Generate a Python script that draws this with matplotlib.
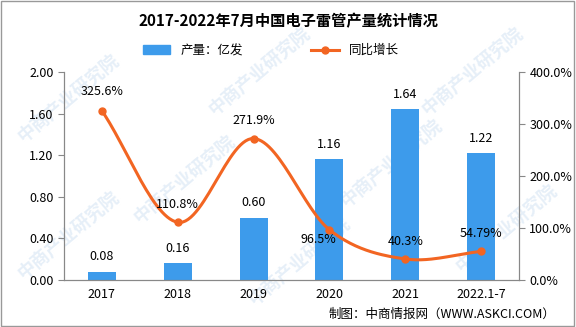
import numpy as np
import matplotlib.pyplot as plt
from matplotlib.lines import Line2D
from matplotlib.patches import Patch

plt.rcParams['font.family'] = ['Noto Sans CJK SC', 'DejaVu Sans']

years = ['2017', '2018', '2019', '2020', '2021', '2022.1-7']
output = [0.08, 0.16, 0.60, 1.16, 1.64, 1.22]
growth = [325.6, 110.8, 271.9, 96.5, 40.3, 54.79]
growth_labels = ['325.6%', '110.8%', '271.9%', '96.5%', '40.3%', '54.79%']

bar_color = '#3D9BEB'
line_color = '#F26522'


# Catmull-Rom style smoothing, like a spreadsheet "smoothed line"
def smooth(xs, ys, n=30):
    xs = np.asarray(xs, float)
    ys = np.asarray(ys, float)
    px = np.concatenate([[2 * xs[0] - xs[1]], xs, [2 * xs[-1] - xs[-2]]])
    py = np.concatenate([[2 * ys[0] - ys[1]], ys, [2 * ys[-1] - ys[-2]]])
    out_x, out_y = [], []
    for i in range(1, len(px) - 2):
        p0, p1, p2, p3 = [np.array([px[j], py[j]]) for j in range(i - 1, i + 3)]
        c1 = p1 + (p2 - p0) / 6
        c2 = p2 - (p3 - p1) / 6
        t = np.linspace(0, 1, n)[:, None]
        pts = (1 - t) ** 3 * p1 + 3 * (1 - t) ** 2 * t * c1 + 3 * (1 - t) * t ** 2 * c2 + t ** 3 * p2
        out_x.extend(pts[:, 0])
        out_y.extend(pts[:, 1])
    return np.array(out_x), np.array(out_y)


fig = plt.figure(figsize=(5.76, 3.27), dpi=100)

# faint diagonal watermark behind everything
for wx, wy in [(0.12, 0.7), (0.45, 0.78), (0.82, 0.78), (0.32, 0.45), (0.68, 0.5), (0.12, 0.28), (0.52, 0.2), (0.88, 0.3)]:
    fig.text(wx, wy, '中商产业研究院', rotation=40, fontsize=13, color='#e6eff8',
             ha='center', va='center', fontweight='bold', zorder=0)

ax = fig.add_axes([0.111, 0.144, 0.79, 0.636])
ax.patch.set_alpha(0)
x = np.arange(len(years))

ax.bar(x, output, width=0.37, color=bar_color, zorder=2)
ax.set_ylim(0, 2.0)
ax.set_yticks(np.arange(0, 2.01, 0.4))
ax.set_yticklabels([f'{v:.2f}' for v in np.arange(0, 2.01, 0.4)])
ax.set_xlim(-0.5, len(years) - 0.5)
ax.set_xticks(x)
ax.set_xticklabels(years)
for xi, v in zip(x, output):
    ax.annotate(f'{v:.2f}', (xi, v), xytext=(0, 6), textcoords='offset points',
                ha='center', va='bottom', fontsize=9, zorder=5)

ax2 = ax.twinx()
ax2.patch.set_alpha(0)
ax.set_zorder(2)
ax2.set_zorder(3)
sx, sy = smooth(x, growth)
ax2.plot(sx, sy, color=line_color, lw=2.2, zorder=3)
ax2.plot(x, growth, 'o', color=line_color, ms=5, zorder=4)
ax2.set_ylim(0, 400)
ax2.set_yticks(np.arange(0, 401, 100))
ax2.set_yticklabels([f'{v:.1f}%' for v in np.arange(0, 401, 100)])
offsets = [(0, 9), (0, 8), (0, 8), (-8, -12), (0, 8), (0, 8)]
for xi, v, lab, off in zip(x, growth, growth_labels, offsets):
    ax2.annotate(lab, (xi, v), xytext=off, textcoords='offset points',
                 ha='center', va='bottom', fontsize=9, zorder=5)

for a in (ax, ax2):
    a.spines['top'].set_visible(False)
    for s in ('left', 'right', 'bottom'):
        a.spines[s].set_color('#888888')
    a.tick_params(colors='black', labelsize=9, length=4, width=0.8)
    a.tick_params(axis='both', color='#888888')
ax.tick_params(axis='x', length=0, pad=6)

fig.text(0.5, 0.935, '2017-2022年7月中国电子雷管产量统计情况',
         ha='center', va='center', fontsize=11, fontweight='bold')

handles = [Patch(color=bar_color, label='产量：亿发'),
           Line2D([], [], color=line_color, lw=2.2, marker='o', ms=5, label='同比增长')]
fig.legend(handles=handles, loc='center', bbox_to_anchor=(0.47, 0.845), ncol=2,
           frameon=False, fontsize=9, handlelength=2.2, columnspacing=5.5)

fig.text(0.965, 0.04, '制图：中商情报网（WWW.ASKCI.COM）', ha='right', va='center', fontsize=9)

fig.patches.append(plt.Rectangle((0.002, 0.003), 0.995, 0.994, transform=fig.transFigure,
                                 fill=False, edgecolor='#999999', lw=1))
fig.savefig('out.png', dpi=100)
